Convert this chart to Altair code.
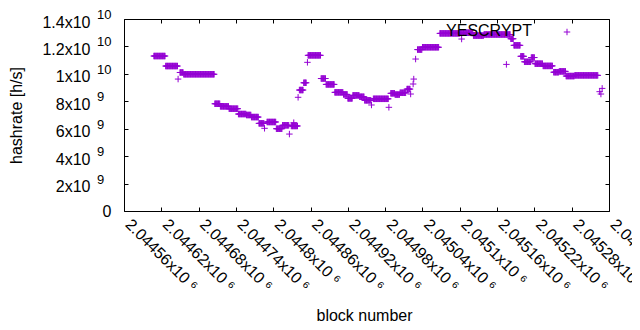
import json
import altair as alt
import pandas as pd

# ---- data (block ranges with a constant hashrate) ----
seg_start = [2044608, 2044627, 2044650, 2044656, 2044706, 2044715, 2044729, 2044744,
             2044757, 2044765, 2044777, 2044790, 2044805, 2044815, 2044829, 2044842,
             2044849, 2044856, 2044877, 2044885, 2044899, 2044913, 2044920, 2044928,
             2044939, 2044947, 2044961, 2044989, 2044996, 2045004, 2045015, 2045032,
             2045040, 2045068, 2045101, 2045122, 2045139, 2045182, 2045187, 2045198,
             2045204, 2045215, 2045221, 2045234, 2045251, 2045260, 2045271, 2045285]
seg_end = [2044626, 2044646, 2044655, 2044705, 2044714, 2044728, 2044743, 2044756,
           2044764, 2044776, 2044785, 2044804, 2044814, 2044825, 2044839, 2044848,
           2044853, 2044876, 2044884, 2044898, 2044912, 2044919, 2044927, 2044938,
           2044946, 2044957, 2044985, 2044995, 2045003, 2045013, 2045020, 2045039,
           2045066, 2045100, 2045121, 2045138, 2045181, 2045186, 2045197, 2045203,
           2045214, 2045220, 2045233, 2045249, 2045259, 2045270, 2045284, 2045322]
seg_value = [1.130e10, 1.057e10, 1.010e10, 9.97e9, 7.82e9, 7.63e9, 7.46e9, 7.07e9,
             7.00e9, 6.85e9, 6.39e9, 6.49e9, 6.00e9, 6.25e9, 6.20e9, 8.82e9,
             9.35e9, 1.135e10, 9.66e9, 9.23e9, 8.65e9, 8.50e9, 8.21e9, 8.43e9,
             8.33e9, 8.07e9, 8.18e9, 8.58e9, 8.49e9, 8.62e9, 8.89e9, 1.177e10,
             1.194e10, 1.295e10, 1.300e10, 1.279e10, 1.287e10, 1.256e10, 1.208e10, 1.128e10,
             1.088e10, 1.119e10, 1.074e10, 1.058e10, 1.012e10, 1.018e10, 9.84e9, 9.89e9]

single_block = [2044647, 2044786, 2044826, 2044833, 2044840, 2044855, 2044958, 2044986,
                2045021, 2045025, 2045026, 2045029, 2045103, 2045175, 2045325, 2045327,
                2045329]
single_value = [9.62e9, 6.03e9, 5.61e9, 6.44e9, 8.29e9, 1.084e10, 7.73e9, 7.56e9,
                8.53e9, 9.26e9, 9.62e9, 1.108e10, 1.254e10, 1.069e10, 8.70e9, 8.53e9,
                8.94e9]

x_ticks = [2044560, 2044620, 2044680, 2044740, 2044800, 2044860, 2044920,
           2044980, 2045040, 2045100, 2045160, 2045220, 2045280, 2045340]
x_tick_labels = ["2.04456x10 ⁶", "2.04462x10 ⁶", "2.04468x10 ⁶", "2.04474x10 ⁶",
                 "2.0448x10 ⁶", "2.04486x10 ⁶", "2.04492x10 ⁶", "2.04498x10 ⁶",
                 "2.04504x10 ⁶", "2.0451x10 ⁶", "2.04516x10 ⁶", "2.04522x10 ⁶",
                 "2.04528x10 ⁶", "2.04534x10 ⁶"]
y_ticks = [0, 2e9, 4e9, 6e9, 8e9, 1e10, 1.2e10, 1.4e10]
y_tick_labels = ["0", "2x10", "4x10", "6x10", "8x10", "1x10", "1.2x10", "1.4x10"]
y_exp_ticks = [2e9, 4e9, 6e9, 8e9, 1e10, 1.2e10, 1.4e10]
y_exp_labels = ["9", "9", "9", "9", "10", "10", "10"]

series_name = "YESCRYPT"

rows = []
for s, e, v in zip(seg_start, seg_end, seg_value):
    for b in range(s, e + 1):
        rows.append({"block": b, "rate": v})
for b, v in zip(single_block, single_value):
    rows.append({"block": b, "rate": v})
df = pd.DataFrame(rows)

FONT = "Liberation Sans"
LABEL_FONT = "Liberation Sans, DejaVu Sans"
FS = 16
PURPLE = "#9400D3"
PLUS = "M-1,0L1,0M0,-1L0,1"
TS = 4

x_expr = json.dumps(x_tick_labels, ensure_ascii=False) + \
    f"[round((datum.value - {x_ticks[0]}) / 60)]"
y_expr = json.dumps(y_tick_labels, ensure_ascii=False) + "[round(datum.value / 2e9)]"

x_scale = alt.Scale(domain=[x_ticks[0], x_ticks[-1]], nice=False, zero=False)
y_scale = alt.Scale(domain=[0, 1.4e10], nice=False)

points = alt.Chart(df).mark_point(
    shape=PLUS, size=42, filled=False, strokeWidth=1, color=PURPLE, opacity=1
).encode(
    x=alt.X("block:Q", scale=x_scale, axis=alt.Axis(
        orient="bottom", values=x_ticks, labelExpr=x_expr, title="block number",
        offset=-TS, tickSize=TS, domain=False, labelAngle=45, labelAlign="left",
        labelBaseline="alphabetic", labelPadding=14, labelOverlap=False,
        labelFlush=False, titleY=108, titleX=240, titleBaseline="middle",
        titleAlign="center")),
    y=alt.Y("rate:Q", scale=y_scale, axis=alt.Axis(
        orient="left", values=y_ticks, labelExpr=y_expr, title="hashrate [h/s]",
        offset=-TS, tickSize=TS, domain=False,
        labelPadding={"condition": {"test": "datum.value == 0", "value": 13}, "value": 34},
        labelOffset={"condition": {"test": "datum.value == 0", "value": 0}, "value": 3},
        labelOverlap=False, labelFlush=False, titleX=-112, titleY=96,
        titleAngle=-90, titleBaseline="middle", titleAlign="center")),
)

mirror = alt.Chart(df).mark_point(opacity=0).encode(
    x=alt.X("block:Q", scale=x_scale, axis=alt.Axis(
        orient="top", values=x_ticks, labels=False, title=None, offset=-TS,
        tickSize=TS, domain=False)),
    y=alt.Y("rate:Q", scale=y_scale, axis=alt.Axis(
        orient="right", values=y_ticks, labels=False, title=None, offset=-TS,
        tickSize=TS, domain=False)),
)

exp_df = pd.DataFrame({"v": y_exp_ticks, "e": y_exp_labels})
y_exponents = alt.Chart(exp_df).mark_text(
    align="left", baseline="middle", font=FONT, fontSize=13, color="black", dy=-4
).encode(
    x=alt.value(-27),
    y=alt.Y("v:Q", scale=y_scale, axis=None),
    text="e:N",
)

legend_df = pd.DataFrame({"name": [series_name]})
legend_text = alt.Chart(legend_df).mark_text(
    align="right", baseline="middle", font=FONT, fontSize=FS, color="black"
).encode(text="name:N", x=alt.value(408), y=alt.value(12))
legend_sym = alt.Chart(legend_df).mark_point(
    shape=PLUS, size=42, filled=False, strokeWidth=1, color=PURPLE, opacity=1
).encode(x=alt.value(443), y=alt.value(13))

chart = alt.layer(points, mirror, y_exponents, legend_text, legend_sym).resolve_axis(
    x="independent", y="independent"
).properties(
    width=485, height=192,
    padding={"left": 116, "top": 11, "right": 23, "bottom": 111},
    autosize=alt.AutoSizeParams(type="none"),
    background="white",
).configure_view(
    stroke="black", strokeWidth=1
).configure_axis(
    labelFont=LABEL_FONT, labelFontSize=FS, labelColor="black",
    titleFont=FONT, titleFontSize=FS, titleColor="black", titleFontWeight="normal",
    tickColor="black", tickWidth=1, grid=False,
)

chart.save("out.html", embed_options={"renderer": "svg", "actions": False})
